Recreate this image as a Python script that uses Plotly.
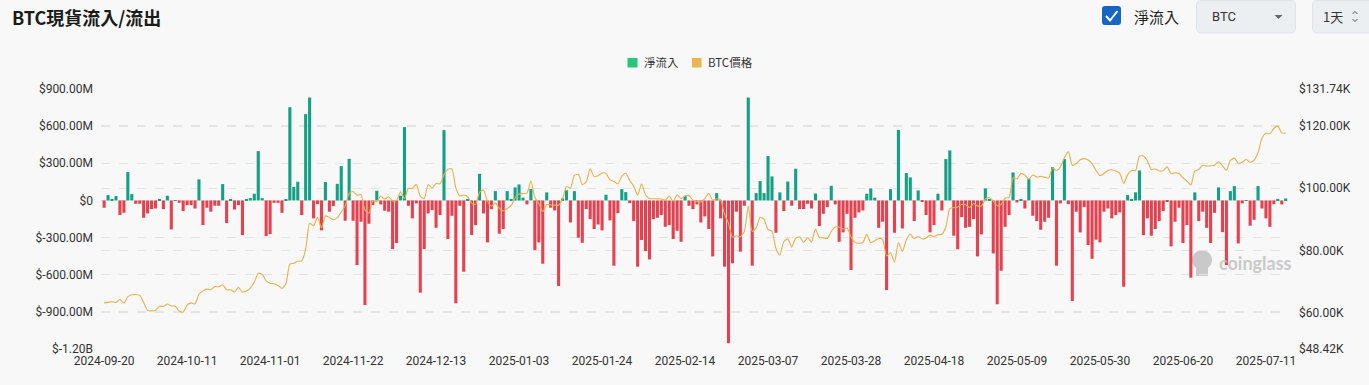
import plotly.graph_objects as go
import pandas as pd

# ---------------- data ----------------
start_date = "2024-09-20"

# daily BTC spot net flow, million USD
netflow_musd = [
    -59, 43, 5, 35, -118, -100, 229, 51, -27, -27,
    -140, -105, -70, -65, 11, -70, 38, -234, 3, -19,
    -86, -38, -38, -65, 170, -199, -59, -91, -43, -43,
    132, -183, 5, -73, -38, -280, 5, 19, 54, 398,
    19, -288, -272, -19, -19, -100, 8, 753, 108, 151,
    -118, 697, 831, -145, -30, -242, 148, -91, -46, 134,
    277, -164, 336, -164, -522, -172, -845, -188, -38, 78,
    -32, -83, -91, -393, -344, 38, 592, -43, -145, -24,
    -745, -393, -105, -78, -221, -118, 568, -312, -124, -831,
    -43, -576, 5, -280, -199, 215, -105, -339, -70, 75,
    -269, -231, 75, 10, 105, 129, 22, -32, 91, -401,
    -339, -511, 65, -59, -81, -691, 16, 81, -178, 75,
    -301, -342, -70, -151, -231, -194, -242, 46, -161, -527,
    -102, 91, 67, -22, -167, -535, -320, -409, -476, -151,
    -140, -118, -213, -199, -312, -245, -334, 35, -43, -70,
    -32, -178, -129, -231, -452, 59, -145, -535, -1154, -508,
    -91, -414, -43, 831, -527, 59, 156, 59, 358, 194,
    -261, 65, -86, 153, -43, 256, -70, -70, -27, -65,
    56, -207, -108, -54, 118, -32, -334, -258, -108, -562,
    -140, -97, -81, 54, 97, 22, -221, -172, -724, 91,
    -261, 570, -226, 221, 186, -167, 81, -10, -118, -258,
    -199, 54, -81, 334, 404, -285, -395, -135, -221, -213,
    -151, -452, -274, 97, 5, -428, -839, -568, -213, -118,
    226, -16, 5, -65, 175, -124, -167, -237, -172, -140,
    269, -527, -24, 334, -30, -812, -91, -258, -54, -360,
    -471, -317, -339, -91, -65, -145, -118, -97, -697, 43,
    5, 65, 242, -280, -145, -285, -231, -167, -86, -5,
    -371, -172, -59, -344, -199, -624, 65, -167, -91, -221,
    -344, -100, 105, -256, -522, 75, 116, -347, -24, 3,
    -204, -156, 116, -65, -145, -213, -30, 13, -32, 16,
]

# daily BTC price, thousand USD
btc_price_k = [
    # 2024-09
    63.2, 63.35, 63.58, 63.34, 64.28, 63.14, 65.18, 65.79, 65.89, 65.6, 63.33,
    # 2024-10
    60.8, 60.65, 60.75, 62.09, 62.05, 62.82, 62.22, 62.13, 60.58, 60.27,
    62.45, 63.19, 62.85, 66.05, 67.04, 67.61, 67.4, 68.42, 68.36, 69.0,
    67.37, 67.38, 66.68, 68.16, 66.64, 67.01, 67.93, 69.91, 72.72, 72.34, 70.22,
    # 2024-11
    69.48, 69.3, 68.74, 67.81, 69.36, 75.64, 75.9, 76.54, 76.66, 80.37,
    88.7, 87.95, 90.59, 87.25, 91.07, 90.58, 89.85, 90.46, 92.31, 94.29,
    98.32, 98.89, 97.67, 97.9, 93.01, 91.95, 95.86, 95.64, 97.46, 96.41,
    # 2024-12
    97.19, 95.84, 96.0, 98.77, 96.6, 99.92, 99.87, 101.18, 97.37, 96.66,
    101.13, 100.0, 101.42, 101.37, 104.3, 106.03, 106.14, 100.04, 97.49, 97.76,
    97.22, 95.1, 94.69, 98.62, 99.35, 95.75, 94.16, 95.16, 93.53, 92.64, 93.43,
    # 2025-01
    94.42, 96.89, 98.11, 98.24, 98.35, 102.24, 96.95, 95.04, 92.48, 94.72,
    94.56, 94.52, 94.49, 96.54, 100.5, 99.99, 104.08, 104.41, 101.09, 102.02,
    106.15, 103.65, 103.96, 104.82, 104.71, 102.62, 102.08, 101.33, 103.73, 104.74, 102.41,
    # 2025-02
    100.65, 97.69, 101.4, 97.87, 96.62, 96.59, 96.53, 96.47, 96.13, 97.43,
    95.78, 97.87, 96.62, 97.51, 97.57, 96.12, 95.77, 95.54, 96.64, 98.31,
    96.13, 96.58, 96.25, 91.55, 88.66, 84.26, 84.69, 84.37,
    # 2025-03
    86.03, 94.25, 86.06, 87.22, 90.62, 89.96, 86.74, 86.15, 80.6, 78.53,
    82.86, 83.72, 81.07, 83.97, 84.34, 82.58, 84.08, 82.72, 86.85, 84.17,
    84.04, 83.83, 86.08, 87.5, 87.47, 86.9, 87.18, 84.35, 82.6, 82.33, 82.55,
    # 2025-04
    85.16, 82.52, 83.1, 83.84, 83.5, 78.21, 79.24, 76.27, 82.57, 79.63,
    83.4, 85.29, 83.74, 84.54, 83.67, 84.03, 84.9, 84.45, 85.06, 85.17,
    87.52, 93.44, 93.7, 93.94, 94.72, 94.65, 93.75, 95.05, 94.28, 94.21,
    # 2025-05
    96.49, 96.91, 95.89, 94.32, 94.75, 96.83, 97.03, 103.24, 102.97, 104.7,
    104.15, 102.81, 104.17, 103.54, 103.74, 103.49, 103.19, 106.45, 105.61, 106.79,
    109.68, 111.67, 107.29, 107.79, 109.04, 109.44, 108.99, 107.8, 105.64, 103.99, 104.64,
    # 2025-06
    105.65, 105.88, 105.43, 104.7, 101.51, 104.29, 105.63, 105.61, 110.26, 110.26,
    108.69, 105.93, 106.09, 105.47, 105.55, 106.79, 104.6, 104.89, 104.63, 103.3,
    102.26, 100.96, 105.42, 105.92, 107.3, 107.05, 107.12, 107.34, 108.39, 107.14,
    # 2025-07
    105.72, 108.85, 109.6, 108.0, 108.24, 109.22, 108.26, 108.95, 111.33, 115.99,
    117.52, 117.44, 119.09, 119.84, 117.68, 117.6,
]

left_tickvals = [-1.2e9, -9e8, -6e8, -3e8, 0, 3e8, 6e8, 9e8]
left_ticktext = ["$-1.20B", "$-900.00M", "$-600.00M", "$-300.00M",
                 "$0", "$300.00M", "$600.00M", "$900.00M"]
right_tickvals = [48420, 60000, 80000, 100000, 120000, 131740]
right_ticktext = ["$48.42K", "$60.00K", "$80.00K", "$100.00K",
                  "$120.00K", "$131.74K"]

title_text = "BTC現貨流入/流出"
series_names = ["淨流入", "BTC價格"]

# ---------------- style ----------------
W, H = 1369, 385
ML, MR, MT, MB = 101, 81, 89, 36
PW, PH = W - ML - MR, H - MT - MB
BG = "#f8f8f8"
GREEN = "#14a083"
RED = "#e6414f"
ORANGE = "#e8b14d"
LEG_GREEN = "#2cc47b"
LEG_ORANGE = "#ebb652"
GRID = "#e4e4e4"
TXT = "#333333"
FONT = "Roboto"

dates = pd.date_range(start_date, periods=len(netflow_musd), freq="D")
assert len(btc_price_k) == len(netflow_musd)
flow_usd = [v * 1e6 for v in netflow_musd]
price_usd = [p * 1000 for p in btc_price_k]
bar_colors = [GREEN if v >= 0 else RED for v in netflow_musd]


def px(x):
    return (x - ML) / PW


def py(y):
    return (H - MB - y) / PH


def rrect(x0, y0, x1, y1, r):
    X0, X1, Y0, Y1 = px(x0), px(x1), py(y0), py(y1)
    rx, ry = r / PW, r / PH
    return (f"M{X0+rx},{Y0} L{X1-rx},{Y0} Q{X1},{Y0} {X1},{Y0-ry} "
            f"L{X1},{Y1+ry} Q{X1},{Y1} {X1-rx},{Y1} L{X0+rx},{Y1} "
            f"Q{X0},{Y1} {X0},{Y1+ry} L{X0},{Y0-ry} Q{X0},{Y0} {X0+rx},{Y0} Z")


def poly(points):
    return "M" + " L".join(f"{px(a)},{py(b)}" for a, b in points)


fig = go.Figure()
fig.add_trace(go.Bar(
    x=dates, y=flow_usd, name=series_names[0],
    marker=dict(color=bar_colors, line=dict(width=0)),
    showlegend=False, yaxis="y",
))
fig.add_trace(go.Scatter(
    x=dates, y=price_usd, name=series_names[1], mode="lines",
    line=dict(color=ORANGE, width=1.1, shape="spline", smoothing=0.6),
    showlegend=False, yaxis="y2",
))

x_start = dates[0] - pd.Timedelta(hours=19)
x_end = dates[-1] + pd.Timedelta(hours=14)

fig.update_layout(
    width=W, height=H,
    margin=dict(l=ML, r=MR, t=MT, b=MB, pad=0),
    paper_bgcolor=BG, plot_bgcolor=BG,
    bargap=0.22,
    font=dict(family=FONT, size=12, color=TXT),
    xaxis=dict(
        type="date", range=[x_start, x_end],
        tick0=start_date, dtick=21 * 86400000, tickformat="%Y-%m-%d",
        showgrid=False, zeroline=False, showline=False, ticks="",
        ticklabelstandoff=3,
        tickfont=dict(family=FONT, size=12, color=TXT),
    ),
    yaxis=dict(
        range=[-1.2e9, 9e8], tickmode="array",
        tickvals=left_tickvals, ticktext=left_ticktext,
        showgrid=True, gridcolor=GRID, griddash="dash", gridwidth=1,
        zeroline=False, showline=False, ticks="", ticklabelstandoff=7,
        tickfont=dict(family=FONT, size=12, color=TXT),
    ),
    yaxis2=dict(
        range=[48420, 131740], overlaying="y", side="right",
        tickmode="array", tickvals=right_tickvals, ticktext=right_ticktext,
        showgrid=True, gridcolor=GRID, griddash="dash", gridwidth=1,
        zeroline=False, showline=False, ticks="", ticklabelstandoff=10,
        tickfont=dict(family=FONT, size=12, color=TXT),
    ),
)

shapes = []
ann = []

# title
ann.append(dict(x=px(10), y=py(17), xref="paper", yref="paper",
                text=f"<b>{title_text}</b>", showarrow=False,
                xanchor="left", yanchor="middle",
                font=dict(family="Noto Sans CJK TC", size=18, color="#1b1b1b")))

# checkbox + label
shapes.append(dict(type="path", xref="paper", yref="paper",
                   path=rrect(1102, 6, 1121, 25, 3),
                   fillcolor="#1765c1", line=dict(width=0)))
shapes.append(dict(type="path", xref="paper", yref="paper",
                   path=poly([(1106, 16), (1110, 20.5), (1117.5, 11)]),
                   line=dict(color="white", width=2)))
ann.append(dict(x=px(1132), y=py(16), xref="paper", yref="paper",
                text=series_names[0], showarrow=False,
                xanchor="left", yanchor="middle",
                font=dict(family="Noto Sans CJK TC", size=15, color="#222")))

# BTC dropdown
shapes.append(dict(type="path", xref="paper", yref="paper",
                   path=rrect(1196.5, 0.5, 1295.5, 33, 5),
                   fillcolor="#eceff2", line=dict(color="#dfe2e6", width=1)))
ann.append(dict(x=px(1210), y=py(16.5), xref="paper", yref="paper",
                text="BTC", showarrow=False, xanchor="left", yanchor="middle",
                font=dict(family=FONT, size=13, color="#333")))
shapes.append(dict(type="path", xref="paper", yref="paper",
                   path=poly([(1274.5, 15), (1282.5, 15), (1278.5, 19)]) + " Z",
                   fillcolor="#666", line=dict(width=0)))

# 1天 selector
shapes.append(dict(type="path", xref="paper", yref="paper",
                   path=rrect(1312.5, 0.5, 1375, 33, 5),
                   fillcolor="#eceff2", line=dict(color="#dfe2e6", width=1)))
ann.append(dict(x=px(1321), y=py(16.5), xref="paper", yref="paper",
                text="1天", showarrow=False, xanchor="left", yanchor="middle",
                font=dict(family="Noto Sans CJK TC", size=13, color="#333")))
shapes.append(dict(type="path", xref="paper", yref="paper",
                   path=poly([(1352.5, 14), (1355, 11.5), (1357.5, 14)]),
                   line=dict(color="#555", width=1)))
shapes.append(dict(type="path", xref="paper", yref="paper",
                   path=poly([(1352.5, 19), (1355, 21.5), (1357.5, 19)]),
                   line=dict(color="#555", width=1)))

# legend
shapes.append(dict(type="rect", xref="paper", yref="paper",
                   x0=px(627.5), x1=px(637.5), y0=py(58), y1=py(67.5),
                   fillcolor=LEG_GREEN, line=dict(width=0)))
ann.append(dict(x=px(642), y=py(62.5), xref="paper", yref="paper",
                text=series_names[0], showarrow=False,
                xanchor="left", yanchor="middle",
                font=dict(family="Noto Sans CJK TC", size=11.5, color="#333")))
shapes.append(dict(type="rect", xref="paper", yref="paper",
                   x0=px(692), x1=px(701.5), y0=py(58), y1=py(67.5),
                   fillcolor=LEG_ORANGE, line=dict(width=0)))
ann.append(dict(x=px(706), y=py(62.5), xref="paper", yref="paper",
                text=series_names[1], showarrow=False,
                xanchor="left", yanchor="middle",
                font=dict(family="Noto Sans CJK TC", size=11.5, color="#333")))

# watermark
shapes.append(dict(type="circle", xref="paper", yref="paper", layer="below",
                   x0=px(1192), x1=px(1212), y0=py(250), y1=py(270),
                   fillcolor="#c9c9c9", line=dict(width=0)))
shapes.append(dict(type="rect", xref="paper", yref="paper", layer="below",
                   x0=px(1196), x1=px(1208), y0=py(264), y1=py(276),
                   fillcolor="#c9c9c9", line=dict(width=0)))
ann.append(dict(x=px(1217), y=py(263), xref="paper", yref="paper",
                text="<b>coinglass</b>", showarrow=False,
                xanchor="left", yanchor="middle", opacity=0.85,
                font=dict(family="Lato", size=18, color="#c2c2c2")))

fig.update_layout(shapes=shapes, annotations=ann)

fig.write_html("out.html",
               config={"displayModeBar": False},
               post_script="document.body.style.margin='0';document.body.style.overflow='hidden';")
